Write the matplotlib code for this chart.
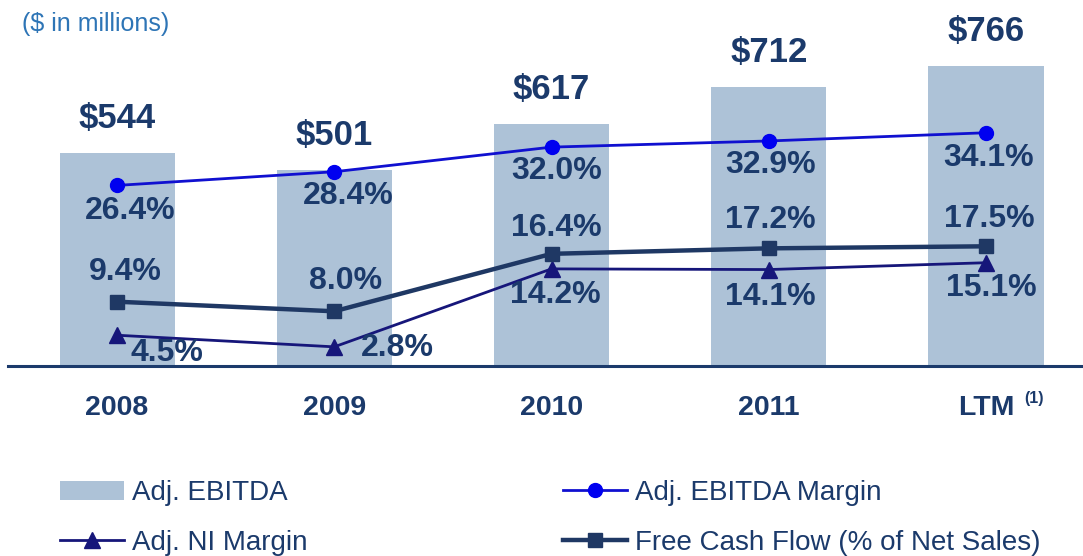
import matplotlib.pyplot as plt
import numpy as np

periods = ["2008", "2009", "2010", "2011", "LTM"]
ebitda = [544, 501, 617, 712, 766]
ebitda_margin = [26.4, 28.4, 32.0, 32.9, 34.1]
ni_margin = [4.5, 2.8, 14.2, 14.1, 15.1]
fcf_margin = [9.4, 8.0, 16.4, 17.2, 17.5]

# label offsets in pixels (dx, dy) relative to each point
margin_offsets = [(13, -26), (14, -24), (5, -24), (2, -24), (3, -25)]
fcf_offsets = [(8, 30), (11, 30), (5, 26), (2, 28), (3, 27)]
ni_offsets = [(50, -18), (63, -1), (4, -26), (2, -27), (5, -25)]

NAVY = "#1B3A6B"
BAR = "#ADC2D7"
BLUE = "#0000F0"
NI_COL = "#16167A"
FCF_COL = "#1F3864"
PX = 72 / 100  # points per pixel

plt.rcParams["font.family"] = ["Liberation Sans", "DejaVu Sans"]

W, H = 1083, 556
fig = plt.figure(figsize=(W / 100, H / 100), dpi=100)
base_px = 366
ax = fig.add_axes([8 / W, (H - base_px) / H, (W - 8) / W, base_px / H])
step = 217.25
x = np.arange(len(periods))
ax.set_xlim(-(117 - 8) / step, 4 + (W - 986) / step)
ax.set_ylim(0, base_px / 0.392)

bars = ax.bar(x, ebitda, width=115 / step, color=BAR, label="Adj. EBITDA")
ax.bar_label(bars, labels=[f"${v}" for v in ebitda], padding=13,
             fontsize=25, fontweight="bold", color=NAVY)

for side in ["top", "left", "right"]:
    ax.spines[side].set_visible(False)
ax.spines["bottom"].set_color(NAVY)
ax.spines["bottom"].set_linewidth(2.2)
ax.set_yticks([])
ax.set_xticks(x)
ax.set_xticklabels(periods, fontsize=20.5, fontweight="bold", color=NAVY)
ax.tick_params(axis="x", length=0, pad=21)
ax.annotate("(1)", xy=(4, 0), xytext=(48 * PX, -32 * PX), textcoords="offset points",
            ha="center", va="center", fontsize=11.5, fontweight="bold", color=NAVY,
            annotation_clip=False)

ax2 = ax.twinx()
ax2.set_ylim(0, base_px / 6.84)
ax2.set_axis_off()

l_margin, = ax2.plot(x, ebitda_margin, color="#1010D0", lw=2, marker="o", ms=10,
                     mfc=BLUE, mec=BLUE, label="Adj. EBITDA Margin")
l_ni, = ax2.plot(x, ni_margin, color=NI_COL, lw=2, marker="^", ms=11,
                 label="Adj. NI Margin")
l_fcf, = ax2.plot(x, fcf_margin, color=FCF_COL, lw=3.2, marker="s", ms=10,
                  label="Free Cash Flow (% of Net Sales)")

for vals, offs in [(ebitda_margin, margin_offsets), (fcf_margin, fcf_offsets),
                   (ni_margin, ni_offsets)]:
    for xi, v, (dx, dy) in zip(x, vals, offs):
        ax2.annotate(f"{v:.1f}%", xy=(xi, v), xytext=(dx * PX, dy * PX),
                     textcoords="offset points", ha="center", va="center",
                     fontsize=23, fontweight="bold", color=NAVY)

fig.text(22 / W, 1 - 24 / H, "($ in millions)", fontsize=18, color="#2E75B6",
         va="center", ha="left")

fig.legend(handles=[bars, l_ni, l_margin, l_fcf], ncol=2, loc="upper left",
           bbox_to_anchor=(60 / W, 1 - 480 / H), frameon=False, fontsize=20,
           handlelength=2.3, handletextpad=0.3, columnspacing=9.2,
           labelspacing=0.85, borderpad=0, borderaxespad=0, labelcolor=NAVY)

fig.savefig("out.png", dpi=100)
